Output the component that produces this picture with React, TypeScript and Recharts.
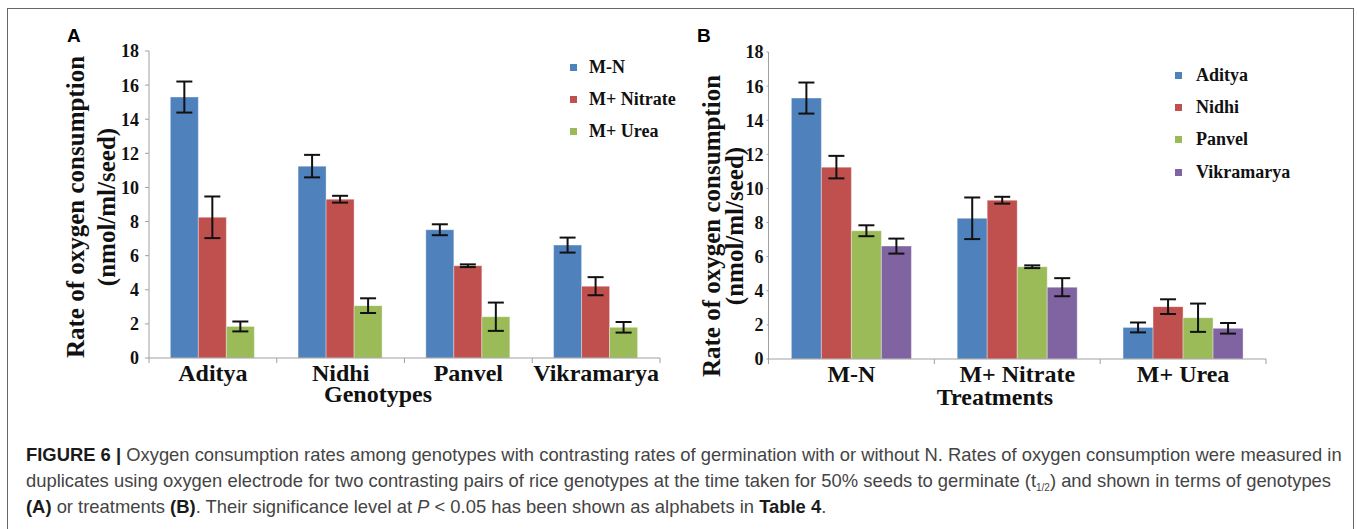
import React from "react";
import { BarChart, Bar, XAxis, YAxis, ErrorBar, Legend, Label } from "recharts";

// values (nmol/ml/seed)
const genotypes = ["Aditya", "Nidhi", "Panvel", "Vikramarya"];
const treatments = ["M-N", "M+ Nitrate", "M+ Urea"];

const mnValues = [15.3, 11.25, 7.52, 6.62];
const mnErrors = [0.91, 0.66, 0.32, 0.44];
const nitrateValues = [8.25, 9.31, 5.41, 4.21];
const nitrateErrors = [1.22, 0.2, 0.08, 0.53];
const ureaValues = [1.85, 3.07, 2.42, 1.8];
const ureaErrors = [0.29, 0.43, 0.83, 0.31];

const yTicks = [0, 2, 4, 6, 8, 10, 12, 14, 16, 18];

const palette = ["#4F81BD", "#C0504D", "#9BBB59", "#8064A2"];
const axisColor = "#a0a0a0";
const serif = "'Liberation Serif', 'Times New Roman', serif";
const sans = "'Liberation Sans', Arial, Helvetica, sans-serif";

const treatmentSeries = [
  { values: mnValues, errors: mnErrors },
  { values: nitrateValues, errors: nitrateErrors },
  { values: ureaValues, errors: ureaErrors },
];

// panel A: one row per genotype
const dataA = genotypes.map((g, i) => {
  const row: any = { name: g };
  treatmentSeries.forEach((s, j) => {
    row["t" + j] = s.values[i];
    row["t" + j + "e"] = s.errors[i];
  });
  return row;
});

// panel B: one row per treatment
const dataB = treatments.map((t, j) => {
  const row: any = { name: t };
  genotypes.forEach((g, i) => {
    row["g" + i] = treatmentSeries[j].values[i];
    row["g" + i + "e"] = treatmentSeries[j].errors[i];
  });
  return row;
});

function CategoryTick(props: any) {
  const { x, y, payload, index, band, count } = props;
  const left = x - band / 2;
  const right = x + band / 2;
  return (
    <g>
      <line x1={left} y1={y} x2={left} y2={y + 5} stroke={axisColor} />
      {index === count - 1 && <line x1={right} y1={y} x2={right} y2={y + 5} stroke={axisColor} />}
      <text x={x} y={y + 23} textAnchor="middle" fontFamily={serif} fontWeight="bold" fontSize={24} fill="#111">
        {payload.value}
      </text>
    </g>
  );
}

const yLabel = (cx1: number, cx2: number, cy: number) => () => (
  <g fontFamily={serif} fontWeight="bold" fontSize={25} fill="#111">
    <text x={cx1} y={cy} transform={`rotate(-90, ${cx1}, ${cy})`} textAnchor="middle" dominantBaseline="central">
      Rate of oxygen consumption
    </text>
    <text x={cx2} y={cy} transform={`rotate(-90, ${cx2}, ${cy})`} textAnchor="middle" dominantBaseline="central">
      (nmol/ml/seed)
    </text>
  </g>
);

const xLabel = (text: string, cx: number, baseline: number) => () => (
  <text x={cx} y={baseline} textAnchor="middle" fontFamily={serif} fontWeight="bold" fontSize={24} fill="#111">
    {text}
  </text>
);

const legendContent = (rowHeight: number, gap: number) => (props: any) => (
  <div>
    {props.payload.map((entry: any, i: number) => (
      <div key={i} style={{ height: rowHeight, display: "flex", alignItems: "center" }}>
        <span style={{ width: 7, height: 7, background: entry.color, marginRight: gap, display: "inline-block" }} />
        <span style={{ fontFamily: serif, fontWeight: "bold", fontSize: 18, color: "#111", whiteSpace: "nowrap" }}>
          {entry.value}
        </span>
      </div>
    ))}
  </div>
);

const yTickStyle = { fontFamily: serif, fontWeight: "bold", fontSize: 18, fill: "#111" };

function PanelA() {
  const width = 700;
  const margin = { top: 51, right: 40, bottom: 32, left: 89 };
  const band = (width - margin.left - margin.right - 60) / genotypes.length;
  return (
    <BarChart width={width} height={420} data={dataA} margin={margin} barGap={0} barCategoryGap="16.7%">
      <XAxis
        dataKey="name"
        height={30}
        tickSize={0}
        tickMargin={0}
        interval={0}
        stroke={axisColor}
        tick={(p: any) => <CategoryTick {...p} band={band} count={genotypes.length} />}
      >
        <Label content={xLabel("Genotypes", 378, 402)} />
      </XAxis>
      <YAxis
        width={60}
        domain={[0, 18]}
        ticks={yTicks}
        interval={0}
        tickSize={4}
        tickMargin={6}
        stroke={axisColor}
        tick={yTickStyle}
      >
        <Label content={yLabel(75, 106, 207)} />
      </YAxis>
      <Legend
        layout="vertical"
        align="center"
        verticalAlign="middle"
        itemSorter="dataKey"
        wrapperStyle={{ left: 570, top: 51, width: "auto" }}
        content={legendContent(32, 12)}
      />
      {treatments.map((t, j) => (
        <Bar key={t} dataKey={"t" + j} name={t} fill={palette[j]} stroke="#ffffff" strokeOpacity={0.35} isAnimationActive={false}>
          <ErrorBar dataKey={"t" + j + "e"} width={8} strokeWidth={2} stroke="#111" isAnimationActive={false} />
        </Bar>
      ))}
    </BarChart>
  );
}

function PanelB() {
  const width = 677;
  const margin = { top: 52, right: 91, bottom: 31, left: 28.5 };
  const band = (width - margin.left - margin.right - 60) / treatments.length;
  return (
    <BarChart width={width} height={420} data={dataB} margin={margin} barGap={0} barCategoryGap="13.8%">
      <XAxis
        dataKey="name"
        height={30}
        tickSize={0}
        tickMargin={0}
        interval={0}
        stroke={axisColor}
        tick={(p: any) => <CategoryTick {...p} band={band} count={treatments.length} />}
      >
        <Label content={xLabel("Treatments", 315, 405)} />
      </XAxis>
      <YAxis
        width={60}
        domain={[0, 18]}
        ticks={yTicks}
        interval={0}
        tickSize={2}
        tickMargin={3}
        stroke={axisColor}
        tick={yTickStyle}
      >
        <Label content={yLabel(31, 54, 226)} />
      </YAxis>
      <Legend
        layout="vertical"
        align="center"
        verticalAlign="middle"
        itemSorter="dataKey"
        wrapperStyle={{ left: 495, top: 59, width: "auto" }}
        content={legendContent(32.3, 14)}
      />
      {genotypes.map((g, i) => (
        <Bar key={g} dataKey={"g" + i} name={g} fill={palette[i]} stroke="#ffffff" strokeOpacity={0.35} isAnimationActive={false}>
          <ErrorBar dataKey={"g" + i + "e"} width={8} strokeWidth={2} stroke="#111" isAnimationActive={false} />
        </Bar>
      ))}
    </BarChart>
  );
}

const bold = { fontWeight: "bold" as const, color: "#1a1a1a" };

export default function App() {
  return (
    <div style={{ position: "absolute", left: 0, top: 0, width: 1357, height: 529, background: "#fff", overflow: "hidden" }}>
      <div style={{ position: "absolute", left: 7, top: 8, width: 1345, height: 540, border: "1.5px solid #666" }} />
      <div style={{ position: "absolute", left: 0, top: 0 }}>
        <PanelA />
      </div>
      <div style={{ position: "absolute", left: 680, top: 0 }}>
        <PanelB />
      </div>
      <div style={{ position: "absolute", left: 67, top: 26, fontFamily: sans, fontWeight: "bold", fontSize: 19, lineHeight: "19px" }}>A</div>
      <div style={{ position: "absolute", left: 697, top: 26, fontFamily: sans, fontWeight: "bold", fontSize: 19, lineHeight: "19px" }}>B</div>
      <div
        style={{
          position: "absolute",
          left: 26,
          top: 442,
          fontFamily: sans,
          fontSize: 18.4,
          lineHeight: "26px",
          color: "#444",
          whiteSpace: "nowrap",
        }}
      >
        <span style={bold}>FIGURE 6 |</span> Oxygen consumption rates among genotypes with contrasting rates of germination with or without N. Rates of oxygen consumption were measured in
        <br />
        duplicates using oxygen electrode for two contrasting pairs of rice genotypes at the time taken for 50% seeds to germinate (t
        <span style={{ fontSize: 10, position: "relative", top: 4, lineHeight: 0 }}>1/2</span>) and shown in terms of genotypes
        <br />
        <span style={bold}>(A)</span> or treatments <span style={bold}>(B)</span>. Their significance level at <i>P</i> &lt; 0.05 has been shown as alphabets in{" "}
        <span style={bold}>Table 4</span>.
      </div>
    </div>
  );
}
